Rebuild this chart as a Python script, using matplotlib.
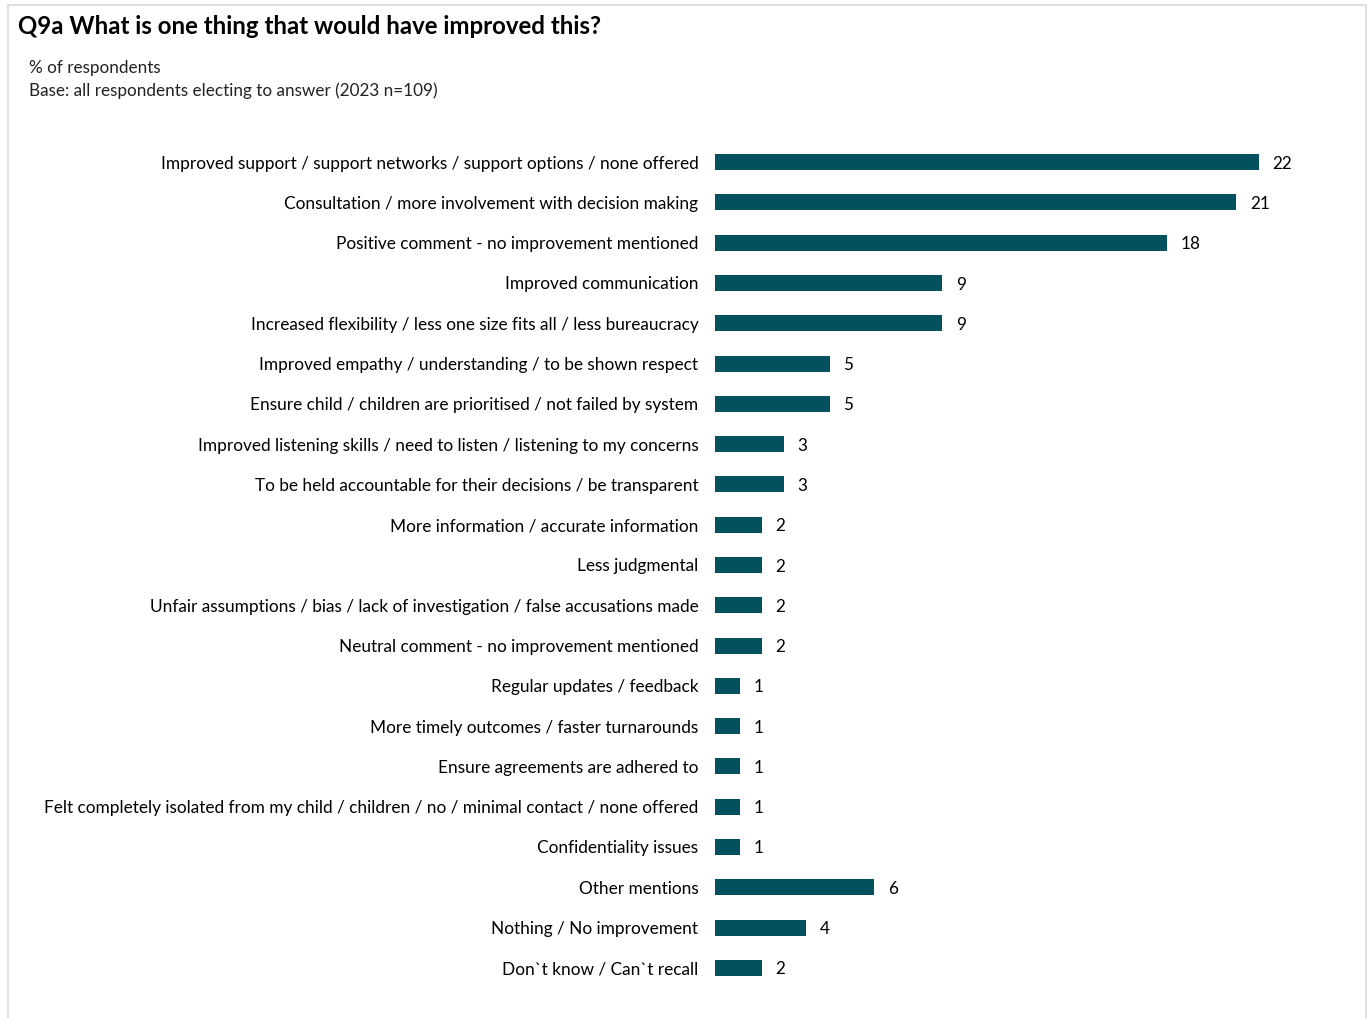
import matplotlib.pyplot as plt
from matplotlib.patches import Rectangle

plt.rcParams['font.family'] = ['Lato', 'DejaVu Sans']

# Data (% of respondents, n=109)
categories = [
    'Improved support / support networks / support options / none offered',
    'Consultation / more involvement with decision making',
    'Positive comment - no improvement mentioned',
    'Improved communication',
    'Increased flexibility / less one size fits all / less bureaucracy',
    'Improved empathy / understanding / to be shown respect',
    'Ensure child / children are prioritised / not failed by system',
    'Improved listening skills / need to listen / listening to my concerns',
    'To be held accountable for their decisions / be transparent',
    'More information / accurate information',
    'Less judgmental',
    'Unfair assumptions / bias / lack of investigation / false accusations made',
    'Neutral comment - no improvement mentioned',
    'Regular updates / feedback',
    'More timely outcomes / faster turnarounds',
    'Ensure agreements are adhered to',
    'Felt completely isolated from my child / children / no / minimal contact / none offered',
    'Confidentiality issues',
    'Other mentions',
    'Nothing / No improvement',
    'Don`t know / Can`t recall',
]
values = [22.0, 21.1, 18.3, 9.2, 9.2, 4.65, 4.65, 2.8, 2.8, 1.9, 1.9, 1.9, 1.9,
          1.0, 1.0, 1.0, 1.0, 1.0, 6.45, 3.7, 1.9]
value_labels = ['22', '21', '18', '9', '9', '5', '5', '3', '3', '2', '2', '2', '2',
                '1', '1', '1', '1', '1', '6', '4', '2']

W, H = 1370, 1018
fig = plt.figure(figsize=(W / 100, H / 100), dpi=100)

# light grey frame round the chart
fig.patches.append(Rectangle((8 / W, -0.01), (1366 - 8) / W, 1 - 5 / H + 0.01,
                             transform=fig.transFigure, fill=False,
                             edgecolor='#d9d9d9', linewidth=1.2))

fig.text(18 / W, 1 - 26 / H, 'Q9a What is one thing that would have improved this?',
         fontsize=17.3, fontweight='bold', va='center', ha='left', color='black')
fig.text(29 / W, 1 - 68 / H, '% of respondents', fontsize=12.3, va='center', color='#222222')
fig.text(29 / W, 1 - 91 / H, 'Base: all respondents electing to answer (2023 n=109)',
         fontsize=12.3, va='center', color='#222222')

left, right = 715, 1366
top, bottom = 142, 988
ax = fig.add_axes([left / W, 1 - bottom / H, (right - left) / W, (bottom - top) / H])

y = list(range(len(categories)))
ax.barh(y, values, height=0.4, color='#03505f')
ax.set_xlim(0, (right - left) / 24.71)
ax.set_ylim(len(categories) - 0.5, -0.5)

for yi, v, lab in zip(y, values, value_labels):
    ax.text(v + 0.55, yi, lab, va='center_baseline', ha='left', fontsize=12.3, color='black')

ax.set_yticks(y)
ax.set_yticklabels(categories, fontsize=12.4)
ax.tick_params(axis='y', length=0, pad=12)
ax.set_xticks([])
for s in ax.spines.values():
    s.set_visible(False)

fig.savefig('out.png', dpi=100)
